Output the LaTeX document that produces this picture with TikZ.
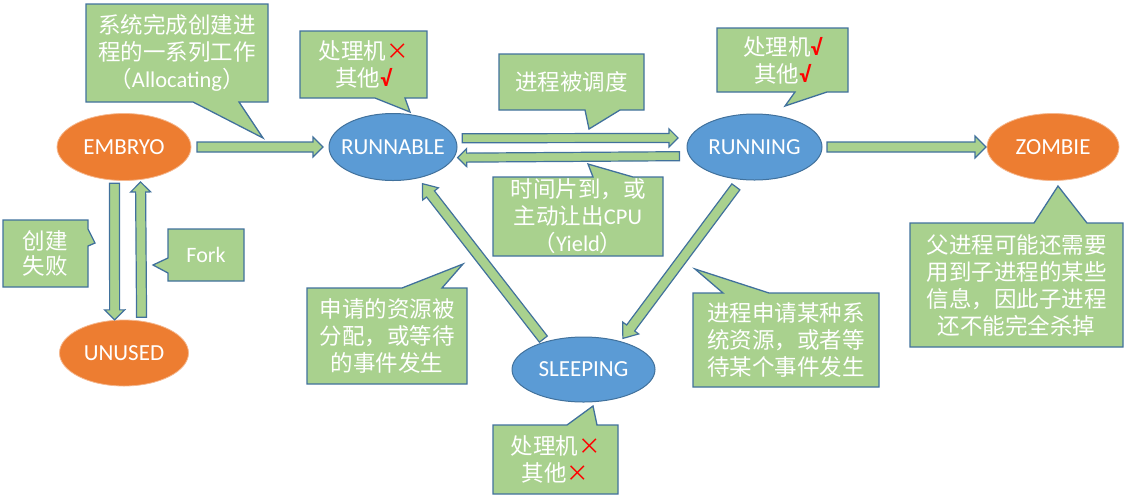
\documentclass[tikz,border=0pt]{standalone}
\usepackage{fontspec}
\setmainfont{Carlito}
\newfontfamily\cjk{Noto Sans CJK SC}
\usetikzlibrary{calc,shapes.geometric}
\pgfdeclarelayer{bg}
\pgfsetlayers{bg,main}
\definecolor{cfill}{HTML}{A9D18E}
\definecolor{cline}{HTML}{41719C}
\definecolor{corange}{HTML}{ED7D31}
\definecolor{cblue}{HTML}{5B9BD5}
\newcommand{\markno}{\textcolor{red}{\cjk ×}}
\newcommand{\markyes}{\textcolor{red}{\rmfamily\bfseries √}}
\tikzset{
  ba s/.store in=\baS, ba e/.store in=\baE, ba w/.store in=\baW,
  ba h/.store in=\baH, ba l/.store in=\baL,
  ba s=5pt, ba e=5pt, ba w=5pt, ba h=10pt, ba l=10pt,
  blockarrow/.style={fill=cfill, draw=cline, line width=1.2pt, line join=miter,
    to path={
      let \p1=($(\tikztostart)!\baS!(\tikztotarget)$),
          \p2=($(\tikztotarget)!\baE!(\tikztostart)$) in
      ($(\p1)!\baW!90:(\p2)$)
      -- ($(\p2)!\baL!(\p1)!\baW!-90:(\p1)$)
      -- ($(\p2)!\baL!(\p1)!\baH!-90:(\p1)$)
      -- (\p2)
      -- ($(\p2)!\baL!(\p1)!\baH!90:(\p1)$)
      -- ($(\p2)!\baL!(\p1)!\baW!90:(\p1)$)
      -- ($(\p1)!\baW!-90:(\p2)$) -- cycle
    }},
  state/.style={ellipse, inner sep=0pt, outer sep=0pt},
  orangestate/.style={state, fill=corange, draw=corange!55!white, line width=0.8pt},
  bluestate/.style={state, fill=cblue, draw=cline, line width=1pt},
  statetext/.style={text=white, font=\fontsize{23}{27}\selectfont, inner sep=0pt},
  note/.style={inner sep=0pt, outer sep=0pt, text=white, align=center,
    font=\cjk\fontsize{22.5}{27}\selectfont},
  noteline/.style={fill=cfill, draw=cline, line width=1.3pt, line join=miter},
}
\begin{document}
\begin{tikzpicture}[x=1pt,y=-1pt]
\useasboundingbox (0,0) rectangle (1126,499);

% states
\node[orangestate, minimum width=134pt, minimum height=67pt, label={[statetext]center:EMBRYO}] (EMBRYO) at (124,147) {};
\node[orangestate, minimum width=129pt, minimum height=66pt, label={[statetext]center:UNUSED}] (UNUSED) at (124,353) {};
\node[bluestate, minimum width=128pt, minimum height=67pt, label={[statetext]center:RUNNABLE}] (RUNNABLE) at (393,147) {};
\node[bluestate, minimum width=135pt, minimum height=66pt, label={[statetext]center:RUNNING}] (RUNNING) at (754.5,147) {};
\node[orangestate, minimum width=132pt, minimum height=67pt, label={[statetext]center:ZOMBIE}] (ZOMBIE) at (1053,147) {};
\node[bluestate, minimum width=143pt, minimum height=65pt, label={[statetext]center:SLEEPING}] (SLEEPING) at (583.5,369.5) {};

% transitions
\draw[blockarrow, ba s=6pt, ba e=6pt] (EMBRYO.east) to (RUNNABLE.west);
\draw[blockarrow, ba s=7.4pt, ba e=11.6pt, ba w=4.5pt, ba h=9pt, ba l=9pt] (RUNNABLE.8.31) to (RUNNING.172.11);
\draw[blockarrow, ba s=10.2pt, ba e=4pt, ba w=4.5pt, ba h=9pt, ba l=9pt] (RUNNING.188.84) to (RUNNABLE.350.7);
\draw[blockarrow, ba s=5pt, ba e=1pt, ba h=11pt, ba l=11pt] (RUNNING.east) to (ZOMBIE.west);
\draw[blockarrow, ba s=3pt, ba e=0.5pt] (EMBRYO.254.01) to (UNUSED.106.23);
\draw[blockarrow, ba s=4pt, ba e=2.5pt] (UNUSED.61.9) to (EMBRYO.297.69);
\draw[blockarrow, ba s=3.6pt, ba e=7.4pt, ba l=13pt] (SLEEPING.144.6) to (RUNNABLE.309.4);
\draw[blockarrow, ba s=9.3pt, ba e=4.1pt, ba l=13pt] (RUNNING.248.1) to (SLEEPING.37.7);

% callout texts
\node[note, minimum width=182pt, minimum height=98pt] (n1) at (177,53) {系统完成创建进\\程的一系列工作\\（{\rmfamily Allocating}）};
\node[note, minimum width=127pt, minimum height=67pt] (n2) at (363.5,64.5) {处理机\markno\\其他\markyes};
\node[note, minimum width=145pt, minimum height=56pt] (n3) at (571.5,82) {进程被调度};
\node[note, minimum width=131pt, minimum height=64pt] (n4) at (782.5,60) {处理机\markyes\\其他\markyes};
\node[note, minimum width=213pt, minimum height=124pt] (n5) at (1016.5,285) {父进程可能还需要\\用到子进程的某些\\信息，因此子进程\\还不能完全杀掉};
\node[note, minimum width=186pt, minimum height=94pt] (n6) at (786,340) {进程申请某种系\\统资源，或者等\\待某个事件发生};
\node[note, minimum width=170pt, minimum height=79pt] (n7) at (578,216.5) {时间片到，或\\主动让出{\rmfamily CPU}\\（{\rmfamily Yield}）};
\node[note, minimum width=160pt, minimum height=96pt] (n8) at (387,336) {申请的资源被\\分配，或等待\\的事件发生};
\node[note, minimum width=125pt, minimum height=69pt] (n9) at (555.5,459.5) {处理机\markno\\其他\markno};
\node[note, minimum width=85pt, minimum height=67pt, font=\cjk\fontsize{22.5}{25}\selectfont] (n10) at (45.5,253.5) {创建\\失败};
\node[note, minimum width=76pt, minimum height=52pt, font=\fontsize{22}{26}\selectfont] (n11) at (206,255) {Fork};

% callout outlines
\begin{pgfonlayer}{bg}
\draw[noteline] (n1.north west) -- (n1.north east) -- (n1.south east) -- (239,102) -- (263,138) -- (193,102) -- (n1.south west) -- cycle;
\draw[noteline] (n2.north west) -- (n2.north east) -- (n2.south east) -- (405,98) -- (410,112) -- (375,98) -- (n2.south west) -- cycle;
\draw[noteline] (n3.north west) -- (n3.north east) -- (n3.south east) -- (620,110) -- (589,129) -- (585,110) -- (n3.south west) -- cycle;
\draw[noteline] (n4.north west) -- (n4.north east) -- (n4.south east) -- (827,92) -- (785,106) -- (795,92) -- (n4.south west) -- cycle;
\draw[noteline] (n5.north west) -- (1034,223) -- (1058,186) -- (1087,223) -- (n5.north east) -- (n5.south east) -- (n5.south west) -- cycle;
\draw[noteline] (n6.north west) -- (723,293) -- (695,269) -- (769,293) -- (n6.north east) -- (n6.south east) -- (n6.south west) -- cycle;
\draw[noteline] (n7.north west) -- (593,177) -- (588,164) -- (633,177) -- (n7.north east) -- (n7.south east) -- (n7.south west) -- cycle;
\draw[noteline] (n8.north west) -- (402,288) -- (463,264) -- (442,288) -- (n8.north east) -- (n8.south east) -- (n8.south west) -- cycle;
\draw[noteline] (n9.north west) -- (567,425) -- (593,406) -- (597,425) -- (n9.north east) -- (n9.south east) -- (n9.south west) -- cycle;
\draw[noteline] (n10.north west) -- (n10.north east) -- (88,229) -- (95,243) -- (88,246) -- (n10.south east) -- (n10.south west) -- cycle;
\draw[noteline] (n11.north west) -- (n11.north east) -- (n11.south east) -- (n11.south west) -- (168,273) -- (153,265) -- (168,258) -- cycle;
\end{pgfonlayer}
\end{tikzpicture}
\end{document}
